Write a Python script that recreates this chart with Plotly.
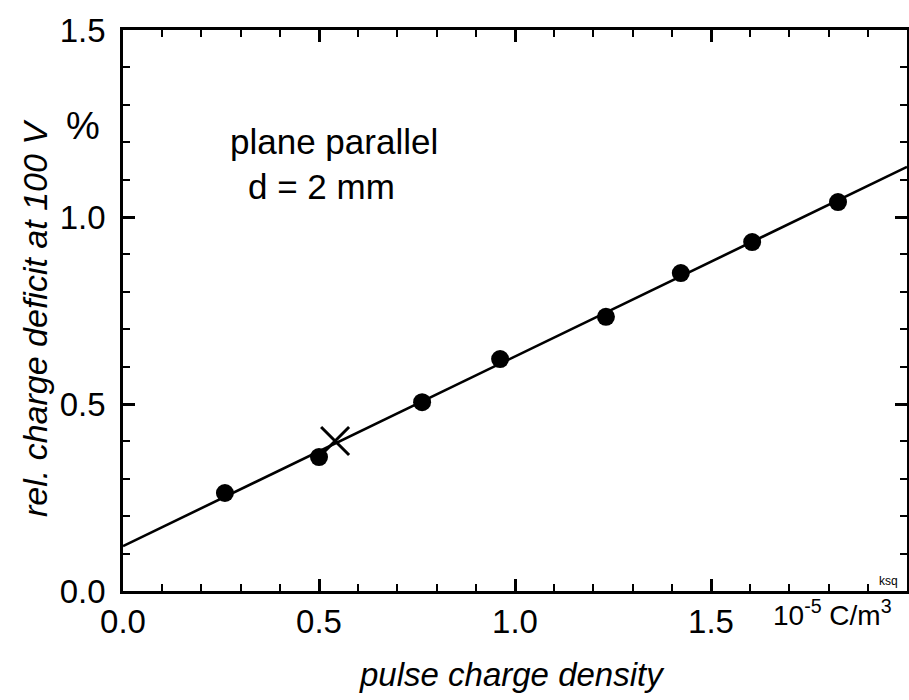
import plotly.graph_objects as go

# data
density = [0.26, 0.50, 0.763, 0.962, 1.232, 1.423, 1.605, 1.824]
deficit = [0.262, 0.358, 0.505, 0.620, 0.733, 0.850, 0.933, 1.040]
cross_x = [0.541]
cross_y = [0.401]
fit_x = [0.0, 2.0]
fit_y = [0.12, 1.134]
x_tickvals = [0.0, 0.5, 1.0, 1.5]
x_ticktext = ["0.0", "0.5", "1.0", "1.5"]
y_tickvals = [0.0, 0.5, 1.0, 1.5]
y_ticktext = ["0.0", "0.5", "1.0", "1.5"]

FONT = "Liberation Sans, Arial, sans-serif"
FS = 33

fig = go.Figure()
fig.add_trace(go.Scatter(x=fit_x, y=fit_y, mode="lines",
                         line=dict(color="black", width=2.6), showlegend=False))
fig.add_trace(go.Scatter(x=density, y=deficit, mode="markers",
                         marker=dict(color="black", size=18, line=dict(width=0)),
                         showlegend=False))
fig.add_trace(go.Scatter(x=cross_x, y=cross_y, mode="markers",
                         marker=dict(symbol="x-thin-open", color="black", size=28,
                                     line=dict(color="black", width=3)),
                         showlegend=False))

axis_common = dict(
    showgrid=False, zeroline=False, showline=True, linecolor="black", linewidth=2.5,
    mirror="ticks", ticks="inside", ticklen=12, tickwidth=2.5, tickcolor="black",
    tickfont=dict(family=FONT, size=FS, color="black"), automargin=False,
)

fig.update_xaxes(range=[0, 2.0], tickvals=x_tickvals, ticktext=x_ticktext,
                 minor=dict(dtick=0.1, ticks="inside", ticklen=7, tickwidth=2, tickcolor="black"),
                 **axis_common)
fig.update_yaxes(range=[0, 1.5], tickvals=y_tickvals, ticktext=y_ticktext,
                 ticklabelstandoff=8,
                 minor=dict(dtick=0.1, ticks="inside", ticklen=7, tickwidth=2, tickcolor="black"),
                 **axis_common)

L, R, T, B = 123, 2, 30, 109
W, H = 909, 700
pw, ph = W - L - R, H - T - B

def px(x):
    return (x - L) / pw

def py(y):
    return (H - B - y) / ph

ann = [
    dict(text="%", x=px(83), y=py(126), size=38),
    dict(text="plane parallel", x=px(334), y=py(141), size=FS + 2),
    dict(text="d = 2 mm", x=px(321), y=py(186), size=FS + 2),
    dict(text="10<sup>-5</sup> C/m<sup>3</sup>", x=px(832), y=py(613), size=28),
    dict(text="ksq", x=px(888), y=py(581), size=12),
    dict(text="<i>pulse charge density</i>", x=px(512), y=py(674), size=FS),
]
annotations = []
for a in ann:
    annotations.append(dict(text=a["text"], x=a["x"], y=a["y"], xref="paper", yref="paper",
                            showarrow=False, xanchor="center", yanchor="middle",
                            font=dict(family=FONT, size=a["size"], color="black")))
annotations.append(dict(text="<i>rel. charge deficit at 100 V</i>", x=px(35), y=py(318),
                        xref="paper", yref="paper", showarrow=False, textangle=-90,
                        xanchor="center", yanchor="middle",
                        font=dict(family=FONT, size=34, color="black")))

fig.update_layout(width=W, height=H, margin=dict(l=L, r=R, t=T, b=B),
                  paper_bgcolor="white", plot_bgcolor="white",
                  annotations=annotations, showlegend=False)

fig.write_html("out.html", config={"displayModeBar": False},
               post_script="document.body.style.margin='0';document.body.style.overflow='hidden';")
